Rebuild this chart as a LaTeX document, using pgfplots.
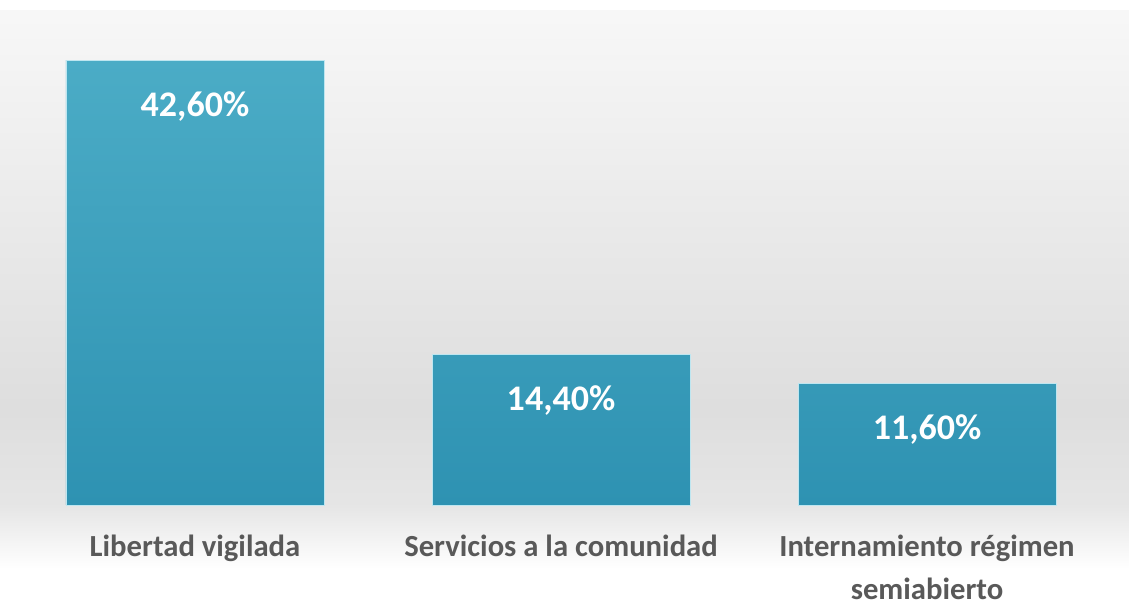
\documentclass[border=0pt]{standalone}
\usepackage{fontspec}
\setmainfont{Carlito}
\usepackage{pgfplots}
\pgfplotsset{compat=1.18}
\definecolor{bartop}{RGB}{75,172,198}
\definecolor{barbot}{RGB}{46,146,178}
\definecolor{baredge}{RGB}{190,230,240}
\definecolor{lbl}{RGB}{89,89,89}
\begin{document}
\begin{tikzpicture}
% background gradient (px * 0.75 = pt), measured from bottom
\fill[white] (0,0) rectangle (846.75pt,30pt);
\fill[bottom color=white, top color=white!90!black, draw=none] (0,30pt) rectangle (846.75pt,78pt);
\fill[bottom color=white!90!black, top color=white!87!black, draw=none] (0,78pt) rectangle (846.75pt,150pt);
\fill[bottom color=white!87!black, top color=white!97!black, draw=none] (0,150pt) rectangle (846.75pt,449.25pt);
\fill[white] (0,449.25pt) rectangle (846.75pt,456.75pt);
\begin{axis}[
  at={(9pt,78pt)}, anchor=south west,
  scale only axis, width=823.5pt, height=352.5pt,
  xmin=-0.5, xmax=2.5, ymin=0, ymax=45,
  clip=false,
  axis line style={draw=none},
  ytick=\empty,
  xtick={0,1,2},
  xticklabels={Libertad vigilada, Servicios a la comunidad, {Internamiento régimen\\semiabierto}},
  major tick length=0pt,
  xticklabel style={align=center, anchor=north, inner sep=0pt, yshift=-22.5pt,
    font=\bfseries\fontsize{23pt}{32pt}\selectfont, text=lbl},
  ybar, bar width=193.5pt,
]
\addplot[ybar, bar shift=0pt, draw=baredge, line width=0.6pt,
  top color=bartop, bottom color=barbot,
  point meta=explicit symbolic, nodes near coords,
  every node near coord/.append style={anchor=center, yshift=-34.5pt,
    font=\bfseries\fontsize{27pt}{30pt}\selectfont, text=white}]
  coordinates {(0,42.6) [{42,60\%}] (1,14.4) [{14,40\%}] (2,11.6) [{11,60\%}]};
\end{axis}
\pgfresetboundingbox
\useasboundingbox (0,0) rectangle (846.75pt,456.75pt);
\end{tikzpicture}
\end{document}
